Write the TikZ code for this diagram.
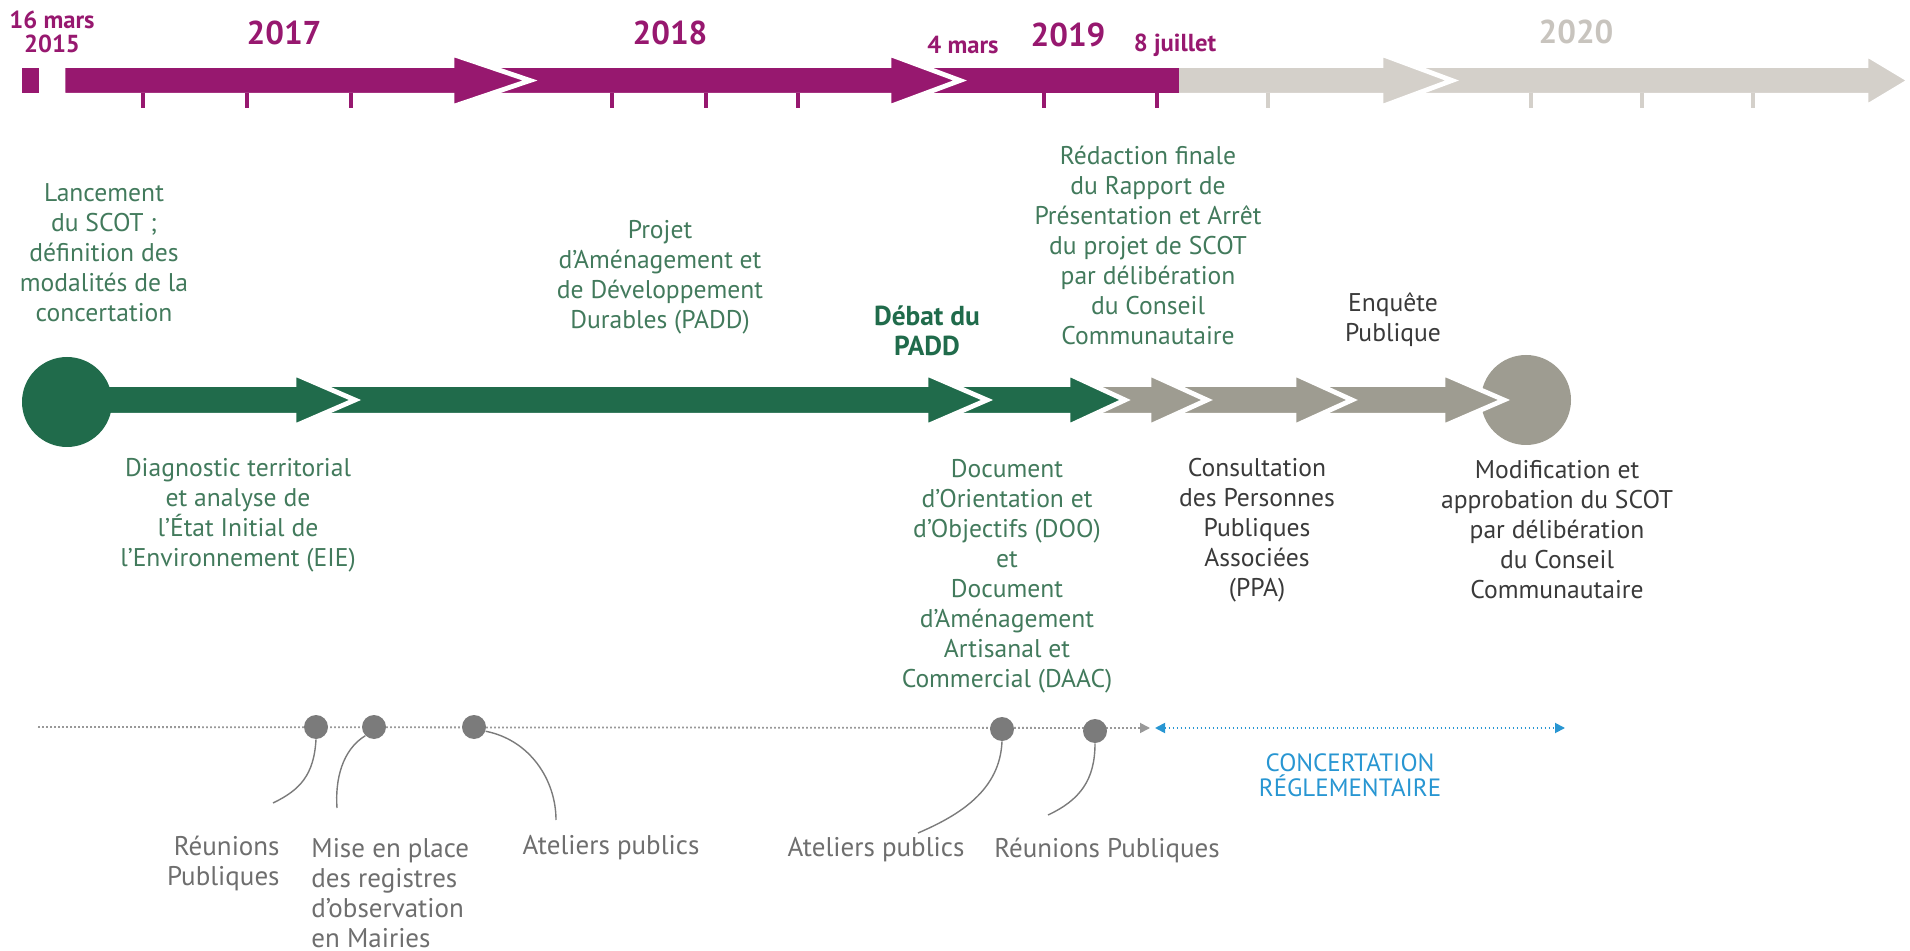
\documentclass[tikz,border=0pt]{standalone}
\usepackage{fontspec}
\setmainfont{PT Sans}
\usepackage{tikz}
\usetikzlibrary{arrows.meta}
\definecolor{plum}{HTML}{97186F}
\definecolor{sand}{HTML}{D4D0CA}
\definecolor{sandtext}{HTML}{C8C4BE}
\definecolor{forest}{HTML}{206B4B}
\definecolor{leaf}{HTML}{427A5C}
\definecolor{stone}{HTML}{9E9C91}
\definecolor{ink}{HTML}{3A3A3A}
\definecolor{ash}{HTML}{6E6E6E}
\definecolor{dotgray}{HTML}{7B7B7B}
\definecolor{sky}{HTML}{2896D2}
% chevron segment: style, tail x, head base x, tip x, centre y, bar half height, head half height
\newcommand{\chev}[7]{\filldraw[#1] (#2,{#5-#6}) -- (#3,{#5-#6}) -- (#3,{#5-#7}) -- (#4,#5) -- (#3,{#5+#7}) -- (#3,{#5+#6}) -- (#2,{#5+#6}) -- cycle;}

\begin{document}
\begin{tikzpicture}[x=0.5pt,y=-0.5pt,
 seg/.style={draw=white,line width=2.4pt},
 dsc/.style={align=center,text=leaf,font=\fontsize{12.8}{15}\selectfont,inner sep=0pt},
 gry/.style={dsc,text=ink},
 yr/.style={text=plum,font=\fontsize{16.5}{18}\selectfont\bfseries,inner sep=0pt},
 dt/.style={text=plum,font=\fontsize{12.3}{12}\selectfont\bfseries,align=center,inner sep=0pt},
 tk/.style={line width=2pt,draw=plum},
 mdot/.style={circle,fill=dotgray,minimum size=12pt,inner sep=0pt},
 mtg/.style={text=ash,font=\fontsize{13.5}{15}\selectfont,inner sep=0pt},
 dotline/.style={draw=gray!80,line width=0.9pt,dash pattern=on 0.9pt off 1.1pt},
 lead/.style={draw=dotgray,line width=0.7pt}]
\useasboundingbox (0,0) rectangle (1910,951);

% top timeline
\chev{seg,fill=sand}{1401}{1866}{1910}{80.5}{14.9}{26.4}
\chev{seg,fill=sand}{1170}{1381}{1452}{80.5}{14.9}{26.4}
\fill[plum] (909,68) rectangle (1179,93);
\chev{seg,fill=plum}{472}{889}{960}{80.5}{14.9}{26.4}
\chev{seg,fill=plum}{63}{452}{530}{80.5}{14.9}{26.4}
\fill[plum] (22,68) rectangle (39,93);
\foreach \x in {143,247,351,612,706,798,1044,1157} \draw[tk] (\x,93) -- (\x,108);
\foreach \x in {1268,1531,1642,1753} \draw[tk,draw=sand] (\x,93) -- (\x,108);

\node[dt] (d2015) at (52,32) {16 mars\\2015};
\node[yr] (y2017) at (284,33) {2017};
\node[yr] (y2018) at (670,33) {2018};
\node[dt] (d4mars) at (963,45) {4 mars};
\node[yr] (y2019) at (1068,35) {2019};
\node[dt] (d8juil) at (1175,45) {8 juillet};
\node[yr,text=sandtext] (y2020) at (1576,32) {2020};

% procedure
\node[circle,fill=stone,minimum size=45pt,inner sep=0pt] (fin) at (1526,400) {};
\chev{seg,fill=stone}{1309}{1443}{1504}{400}{15.4}{26.4}
\chev{seg,fill=stone}{1164}{1294}{1352}{400}{15.4}{26.4}
\chev{seg,fill=stone}{1083}{1149}{1207}{400}{15.4}{26.4}
\chev{seg,fill=forest}{941}{1068}{1125}{400}{15.4}{26.4}
\chev{seg,fill=forest}{309}{926}{987}{400}{15.4}{26.4}
\chev{seg,fill=forest}{67}{294}{355}{400}{15.4}{26.4}
\node[circle,fill=forest,minimum size=45pt,inner sep=0pt] (start) at (67,402) {};

\node[dsc] (lanc) at (104,253) {Lancement\\du SCOT ;\\définition des\\modalités de la\\concertation};
\node[dsc] (padd) at (660,277) {Projet\\d’Aménagement et\\de Développement\\Durables (PADD)};
\node[dsc,text=forest,font=\fontsize{13.7}{15}\selectfont\bfseries] (debat) at (927,331) {Débat du\\PADD};
\node[dsc] (arret) at (1148,245) {Rédaction finale\\du Rapport de\\Présentation et Arrêt\\du projet de SCOT\\par délibération\\du Conseil\\Communautaire};
\node[gry] (enq) at (1393,320) {Enquête\\Publique};
\node[dsc] (diag) at (238,515) {Diagnostic territorial\\et analyse de\\l’État Initial de\\l’Environnement (EIE)};
\node[dsc] (doo) at (1007,576) {Document\\d’Orientation et\\d’Objectifs (DOO)\\et\\Document\\d’Aménagement\\Artisanal et\\Commercial (DAAC)};
\node[gry] (ppa) at (1257,530) {Consultation\\des Personnes\\Publiques\\Associées\\(PPA)};
\node[gry] (appro) at (1557,530) {Modification et\\approbation du SCOT\\par délibération\\du Conseil\\Communautaire};

% concertation
\coordinate (pa) at (38,727);
\coordinate (pb) at (1150,728);
\coordinate (ca) at (1155,728);
\coordinate (cb) at (1565,728);
\draw[dotline,-{Triangle[length=5pt,width=5pt]}] (pa) -- (pb);
\draw[dotline,draw=sky,{Triangle[length=5pt,width=5pt]}-{Triangle[length=5pt,width=5pt]}] (ca) -- (cb);
\node[mdot] (m1) at (316,727) {};
\node[mdot] (m2) at (374,727) {};
\node[mdot] (m3) at (474,727) {};
\node[mdot] (m4) at (1002,729) {};
\node[mdot] (m5) at (1095,731) {};
\node[text=sky,font=\fontsize{12.5}{12.5}\selectfont,align=center,inner sep=0pt] (regl) at (1350,775) {CONCERTATION\\RÉGLEMENTAIRE};

\node[mtg,align=right,anchor=east] (reun1) at (280,863) {Réunions\\Publiques};
\node[mtg,align=left,anchor=west] (mise) at (311,893) {Mise en place\\des registres\\d’observation\\en Mairies};
\node[mtg] (atel1) at (611,848) {Ateliers publics};
\node[mtg] (atel2) at (876,850) {Ateliers publics};
\node[mtg] (reun2) at (1107,850) {Réunions Publiques};

\coordinate (e1) at (273,803);
\coordinate (e2) at (337,808);
\coordinate (e3) at (556,820);
\coordinate (e4) at (918,833);
\coordinate (e5) at (1048,815);
\draw[lead] (m1.south) .. controls (314,775) and (300,790) .. (e1);
\draw[lead] (m2.225) .. controls (342,750) and (335,780) .. (e2);
\draw[lead] (m3.-20) .. controls (530,740) and (556,780) .. (e3);
\draw[lead] (m4.south) .. controls (1000,790) and (960,815) .. (e4);
\draw[lead] (m5.south) .. controls (1095,780) and (1080,800) .. (e5);
\end{tikzpicture}
\end{document}
